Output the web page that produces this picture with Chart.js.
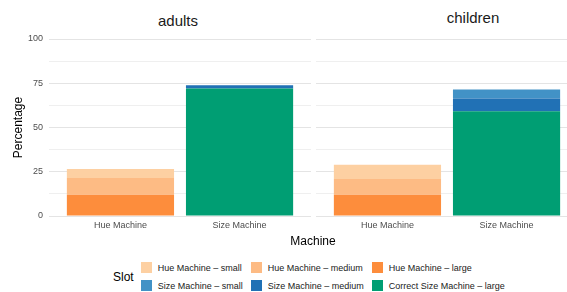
<!DOCTYPE html>
<html>
<head>
<meta charset="utf-8">
<script src="https://cdn.jsdelivr.net/npm/chart.js@4"></script>
<style>
  body { margin: 0; width: 567px; height: 292px; overflow: hidden; position: relative; background: #fff;
         font-family: "Liberation Sans", Arial, sans-serif; }
  canvas { position: absolute; top: 0; }
  #adults { left: 0; }
  #children { left: 316px; }
  .strip { position: absolute; font-size: 15px; color: #1a1a1a; transform: translate(-50%, -50%); white-space: nowrap; }
  #xtitle { position: absolute; left: 313px; top: 241px; font-size: 12px; color: #000; transform: translate(-50%, -50%); }
  #legend { position: absolute; left: 113px; top: 262px; display: flex; align-items: center; }
  #legend .title { font-size: 12px; color: #000; margin-right: 7px; }
  #legend .items { display: grid; grid-template-columns: repeat(3, auto); column-gap: 8px; row-gap: 7px; }
  #legend .item { display: flex; align-items: center; font-size: 9px; color: #1a1a1a; height: 11px; white-space: nowrap; }
  #legend .key { width: 11px; height: 11px; margin-right: 6px; }
</style>
</head>
<body>
<div class="strip" style="left:178px; top:20px;">adults</div>
<div class="strip" style="left:473px; top:17px;">children</div>
<canvas id="adults" width="311" height="240"></canvas>
<canvas id="children" width="262" height="240"></canvas>
<div id="xtitle">Machine</div>
<div id="legend"><div class="title">Slot</div><div class="items" id="legendItems"></div></div>
<script>
const machines = ['Hue Machine', 'Size Machine'];
const slots = ['Hue Machine – small', 'Hue Machine – medium', 'Hue Machine – large',
               'Size Machine – small', 'Size Machine – medium', 'Correct Size Machine – large'];
const slotColors = ['#fdd0a2', '#fdbb84', '#fd8d3c', '#4292c6', '#2171b5', '#009e73'];

// percentages per slot, for each machine
const adultsHue = [5.1, 9.5, 12, 0, 0, 0];
const adultsSize = [0, 0, 0, 0, 1.7, 72.1];
const childrenHue = [8.0, 8.9, 12, 0, 0, 0];
const childrenSize = [0, 0, 0, 5.1, 7.2, 59.2];

const yTicks = [0, 12.5, 25, 37.5, 50, 62.5, 75, 87.5, 100];

function makeChart(id, hue, size, showY) {
    // first slot ends up on top of the stack, like ggplot; empty slots are skipped
    const datasets = slots.map((s, i) => ({
        label: s,
        data: [{ x: 1, y: hue[i] || null }, { x: 2, y: size[i] || null }],
        backgroundColor: slotColors[i],
        borderWidth: 0,
        categoryPercentage: 0.9,
        barPercentage: 1
    })).reverse();

    return new Chart(document.getElementById(id), {
        type: 'bar',
        data: { datasets },
        options: {
            responsive: false,
            animation: false,
            layout: { padding: { top: 39, bottom: 4, left: 0, right: 0 } },
            plugins: { legend: { display: false }, tooltip: { enabled: false } },
            scales: {
                x: {
                    type: 'linear', min: 0.4, max: 2.6, offset: false, stacked: true,
                    grid: { display: false, offset: false, drawTicks: false },
                    border: { display: false },
                    afterBuildTicks: s => { s.ticks = machines.map((m, i) => ({ value: i + 1 })); },
                    afterFit: s => { s.height = 20; },
                    ticks: {
                        callback: v => machines[v - 1],
                        color: '#4d4d4d', font: { size: 9 }, padding: 4,
                        maxRotation: 0, autoSkip: false
                    }
                },
                y: {
                    min: 0, max: 100, stacked: true,
                    border: { display: false },
                    afterBuildTicks: s => { s.ticks = yTicks.map(v => ({ value: v })); },
                    afterFit: s => { s.width = showY ? 49 : 0; },
                    grid: {
                        drawTicks: false,
                        color: ctx => (ctx.tick && ctx.tick.value % 25 === 0) ? '#e4e4e4' : '#efefef'
                    },
                    ticks: {
                        display: showY,
                        callback: v => v % 25 === 0 ? v : '',
                        color: '#4d4d4d', font: { size: 9 }, padding: 6
                    },
                    title: {
                        display: showY, text: 'Percentage', color: '#000',
                        font: { size: 12 }, padding: { top: 11, bottom: 0 }
                    }
                }
            }
        }
    });
}

makeChart('adults', adultsHue, adultsSize, true);
makeChart('children', childrenHue, childrenSize, false);

const legendItems = document.getElementById('legendItems');
slots.forEach((s, i) => {
    const item = document.createElement('div');
    item.className = 'item';
    item.innerHTML = `<span class="key" style="background:${slotColors[i]}"></span>${s}`;
    legendItems.appendChild(item);
});
</script>
</body>
</html>
